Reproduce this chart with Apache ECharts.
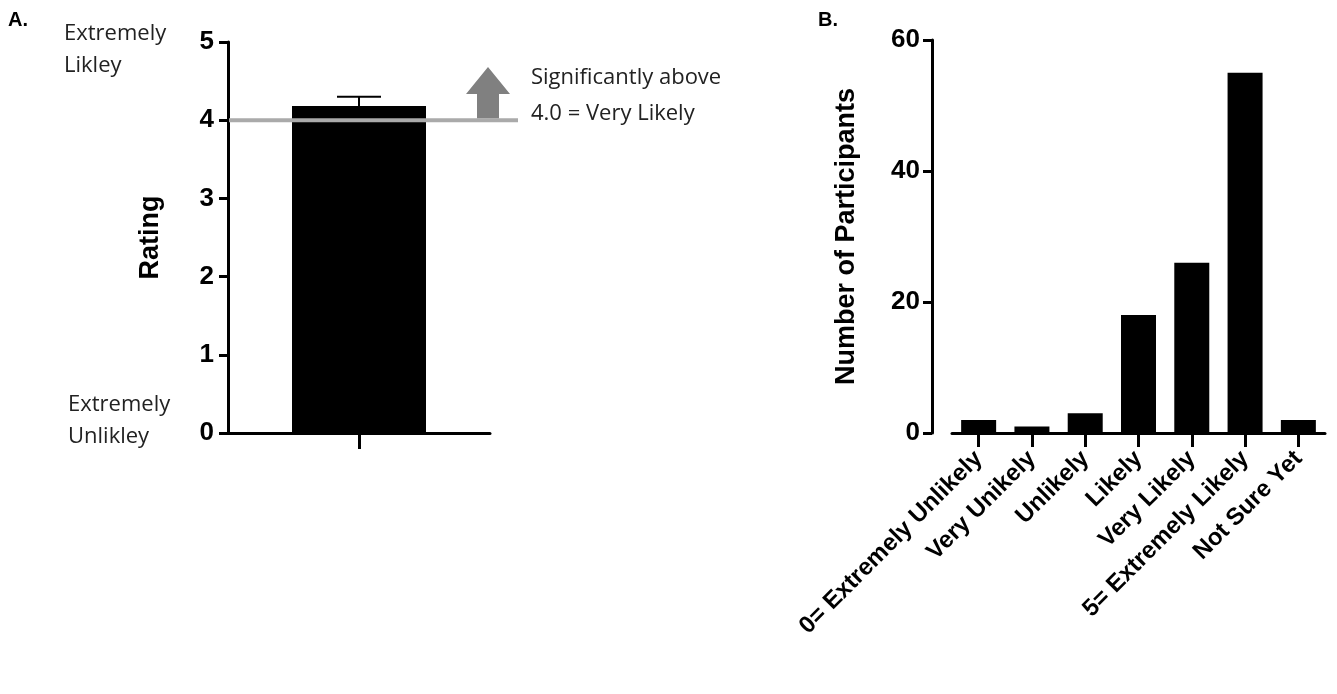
<!DOCTYPE html>
<html>
<head>
<meta charset="utf-8">
<script src="https://cdn.jsdelivr.net/npm/echarts@6/dist/echarts.min.js"></script>
<style>html,body{margin:0;padding:0;background:#fff}#chart{width:1337px;height:694px}</style>
</head>
<body>
<div id="chart"></div>
<script>
// panel A
var ratingCats = [''];
var ratingMean = [4.18];
var ratingUpper = [4.3];
var refValue = 4;
// panel B
var likelyCats = ['0= Extremely Unlikely', 'Very Unikely', 'Unlikely', 'Likely', 'Very Likely', '5= Extremely Likely', 'Not Sure Yet'];
var likelyCounts = [2, 1, 3, 18, 26, 55, 2];

var chart = echarts.init(document.getElementById('chart'));
var bold = {color: '#000', fontFamily: 'Liberation Sans', fontWeight: 'bold'};
var axisLine = {lineStyle: {color: '#000', width: 3}};
var tick = {show: true, length: 9, lineStyle: {color: '#000', width: 3}};

var option = {
    animation: false,
    grid: [
        {left: 228, top: 42, width: 262, height: 391},
        {left: 952, top: 40, width: 373, height: 393}
    ],
    xAxis: [
        {gridIndex: 0, type: 'category', data: ratingCats, axisLine: axisLine, axisTick: {show: true, alignWithLabel: true, length: 16, lineStyle: {color: '#000', width: 3}}, axisLabel: {show: false}},
        {gridIndex: 1, type: 'category', data: likelyCats, axisLine: axisLine,
            axisTick: {show: true, alignWithLabel: true, length: 14, lineStyle: {color: '#000', width: 3}},
            axisLabel: Object.assign({rotate: 45, fontSize: 24, interval: 0, margin: 22}, bold)}
    ],
    yAxis: [
        {gridIndex: 0, type: 'value', min: 0, max: 5, interval: 1, splitLine: {show: false},
            axisLine: Object.assign({show: true}, axisLine), axisTick: tick,
            axisLabel: Object.assign({fontSize: 26, margin: 14}, bold),
            name: 'Rating', nameLocation: 'middle', nameGap: 64, nameTextStyle: Object.assign({fontSize: 27}, bold)},
        {gridIndex: 1, type: 'value', min: 0, max: 60, interval: 20, splitLine: {show: false}, offset: 20,
            axisLine: Object.assign({show: true}, axisLine), axisTick: tick,
            axisLabel: Object.assign({fontSize: 26, margin: 12}, bold),
            name: 'Number of Participants', nameLocation: 'middle', nameGap: 72, nameTextStyle: Object.assign({fontSize: 27}, bold)}
    ],
    series: [
        {type: 'bar', xAxisIndex: 0, yAxisIndex: 0, data: ratingMean, barWidth: 134, itemStyle: {color: '#000'}, z: 2},
        {type: 'custom', xAxisIndex: 0, yAxisIndex: 0, z: 3,
            data: ratingUpper.map(function (u, i) { return [i, ratingMean[i], u]; }),
            renderItem: function (params, api) {
                var lo = api.coord([api.value(0), api.value(1)]);
                var hi = api.coord([api.value(0), api.value(2)]);
                var st = {stroke: '#000', lineWidth: 2};
                return {type: 'group', children: [
                    {type: 'line', shape: {x1: lo[0], y1: lo[1], x2: hi[0], y2: hi[1]}, style: st},
                    {type: 'line', shape: {x1: hi[0] - 22, y1: hi[1], x2: hi[0] + 22, y2: hi[1]}, style: st}
                ]};
            }},
        {type: 'bar', xAxisIndex: 1, yAxisIndex: 1, data: likelyCounts, barWidth: 35, itemStyle: {color: '#000'}}
    ]
};
chart.setOption(option);

// reference line, arrow and annotations
var y4 = chart.convertToPixel({yAxisIndex: 0}, refValue);
var note = {fill: '#222', fontFamily: 'Open Sans', fontSize: 22};
var side = {fill: '#222', fontFamily: 'Open Sans', fontSize: 22};
chart.setOption({graphic: [
    {type: 'line', z: 10, shape: {x1: 229, y1: y4, x2: 518, y2: y4}, style: {stroke: '#aaa', lineWidth: 4}},
    {type: 'polygon', z: 10, shape: {points: [[466, 94], [488, 67], [510, 94], [499, 94], [499, y4 - 2], [477, y4 - 2], [477, 94]]}, style: {fill: '#808080'}},
    {type: 'text', left: 531, top: 60, style: Object.assign({text: 'Significantly above\n4.0 = Very Likely', lineHeight: 36}, note)},
    {type: 'text', left: 64, top: 18, style: Object.assign({text: 'Extremely\nLikley', lineHeight: 32}, side)},
    {type: 'text', left: 68, top: 389, style: Object.assign({text: 'Extremely\nUnlikley', lineHeight: 32}, side)},
    {type: 'text', left: 8, top: 10, style: {text: 'A.', fill: '#000', fontFamily: 'Liberation Sans', fontWeight: 'bold', fontSize: 20}},
    {type: 'text', left: 818, top: 10, style: {text: 'B.', fill: '#000', fontFamily: 'Liberation Sans', fontWeight: 'bold', fontSize: 20}}
]});
</script>
</body>
</html>
